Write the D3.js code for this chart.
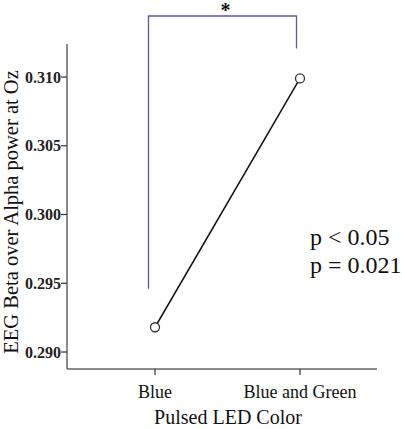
<!DOCTYPE html>
<html><head><meta charset="utf-8">
<script src="https://cdn.jsdelivr.net/npm/d3@7"></script>
<style>body{margin:0;background:#fff}svg{display:block}</style>
</head><body>
<script>
const categories = ["Blue", "Blue and Green"];
const values = [0.2918, 0.3099];
const yTicks = [0.290, 0.295, 0.300, 0.305, 0.310];
const pTexts = ["p < 0.05", "p = 0.021"];

const W = 402, H = 429;
const svg = d3.select("body").append("svg").attr("width", W).attr("height", H);
const font = "'Liberation Serif','Times New Roman',serif";

const x = d3.scalePoint().domain(categories).range([155, 300]);
const y = d3.scaleLinear().domain([0.290, 0.310]).range([352, 77]);
const y0 = y.invert(369), y1 = y.invert(44);

// Y axis
const yAxis = svg.append("g").attr("transform", "translate(67,0)");
yAxis.append("line").attr("x1", 0).attr("x2", 0).attr("y1", y(y1)).attr("y2", y(y0))
  .attr("stroke", "#666").attr("stroke-width", 1.5);
yAxis.selectAll("g.t").data(yTicks).join("g").attr("class", "t")
  .attr("transform", d => `translate(0,${y(d)})`)
  .each(function(d) {
    const g = d3.select(this);
    g.append("line").attr("x1", -6).attr("x2", 0).attr("stroke", "#333").attr("stroke-width", 1.2);
    g.append("text").attr("x", -6).attr("dy", "0.35em").attr("text-anchor", "end")
      .attr("font-family", font).attr("font-size", 16).attr("font-weight", "bold").attr("fill", "#222")
      .text(d3.format(".3f")(d));
  });

// X axis
const xAxis = svg.append("g").attr("transform", `translate(0,${y(y0)})`);
xAxis.append("line").attr("x1", 67).attr("x2", 377).attr("stroke", "#666").attr("stroke-width", 1.5);
xAxis.selectAll("g.t").data(categories).join("g").attr("class", "t")
  .attr("transform", d => `translate(${x(d)},0)`)
  .each(function(d) {
    const g = d3.select(this);
    g.append("line").attr("y1", 0).attr("y2", 6).attr("stroke", "#333").attr("stroke-width", 1.2);
    g.append("text").attr("y", 29).attr("text-anchor", "middle")
      .attr("font-family", font).attr("font-size", 18).attr("fill", "#111").text(d);
  });

// Axis titles
svg.append("text").attr("x", 228).attr("y", 424).attr("text-anchor", "middle")
  .attr("font-family", font).attr("font-size", 20).attr("fill", "#111").text("Pulsed LED Color");
svg.append("text").attr("transform", "translate(18,212) rotate(-90)").attr("text-anchor", "middle")
  .attr("font-family", font).attr("font-size", 20.5).attr("fill", "#111")
  .text("EEG Beta over Alpha power at Oz");

// Line and points
const data = categories.map((c, i) => ({c, v: values[i]}));
svg.append("path").datum(data)
  .attr("d", d3.line().x(d => x(d.c)).y(d => y(d.v)))
  .attr("fill", "none").attr("stroke", "#111").attr("stroke-width", 1.5);
svg.selectAll("circle.pt").data(data).join("circle").attr("class", "pt")
  .attr("cx", d => x(d.c)).attr("cy", d => y(d.v)).attr("r", 4.5)
  .attr("fill", "#fff").attr("stroke", "#333").attr("stroke-width", 1.3);

// Significance bracket
const bx1 = x(categories[0]) - 6.5, bx2 = x(categories[1]) - 3.5;
svg.append("path")
  .attr("d", `M${bx1},${y(0.2946)} V16 H${bx2} V${y(0.31243) + 5}`)
  .attr("fill", "none").attr("stroke", "#5a5aa2").attr("stroke-width", 1.3);
svg.append("text").attr("x", (bx1 + bx2) / 2 + 3).attr("y", 17).attr("text-anchor", "middle")
  .attr("font-family", font).attr("font-size", 20).attr("font-weight", "bold").attr("fill", "#111").text("*");

// p texts
svg.selectAll("text.p").data(pTexts).join("text").attr("class", "p")
  .attr("x", 310).attr("y", (d, i) => 245 + i * 28)
  .attr("font-family", font).attr("font-size", 24).attr("fill", "#111").text(d => d);
</script>
</body></html>
